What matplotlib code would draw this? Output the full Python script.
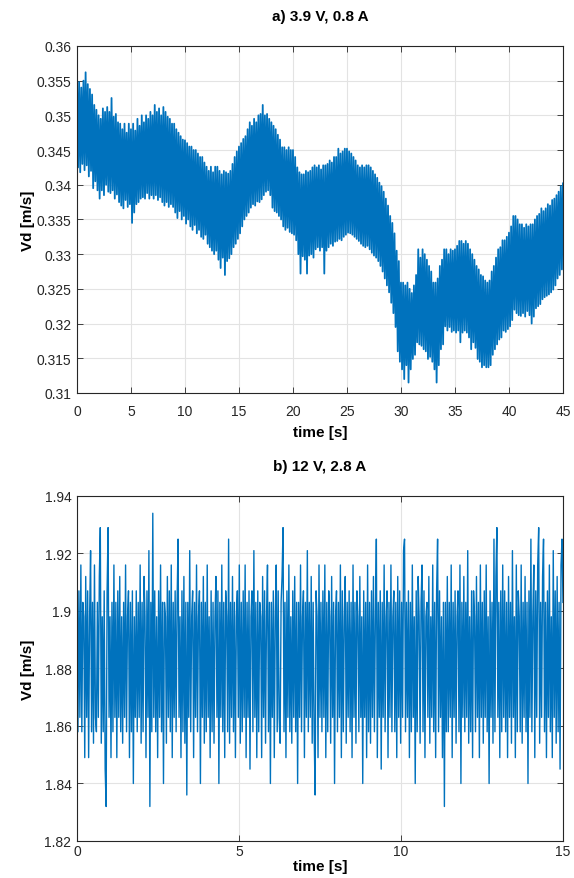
import numpy as np
import matplotlib
matplotlib.use("Agg")
import matplotlib.pyplot as plt
from matplotlib.ticker import FuncFormatter, MultipleLocator

plt.rcParams['font.family'] = ['Liberation Sans', 'DejaVu Sans']

# a) 3.9 V, 0.8 A  -- Vd [m/s], one sample every 0.1 s (0..45 s)
vd_a = [
    0.3555, 0.3425, 0.3548, 0.3418, 0.3540, 0.3430, 0.3550, 0.3421, 0.3562, 0.3428,
    0.3545, 0.3412, 0.3538, 0.3420, 0.3530, 0.3395, 0.3515, 0.3405, 0.3508, 0.3392,
    0.3500, 0.3380, 0.3495, 0.3392, 0.3510, 0.3385, 0.3505, 0.3400, 0.3512, 0.3390,
    0.3505, 0.3388, 0.3525, 0.3392, 0.3498, 0.3380, 0.3502, 0.3386, 0.3490, 0.3375,
    0.3488, 0.3370, 0.3480, 0.3366, 0.3488, 0.3378, 0.3475, 0.3368, 0.3488, 0.3372,
    0.3480, 0.3345, 0.3488, 0.3360, 0.3478, 0.3372, 0.3495, 0.3375, 0.3485, 0.3380,
    0.3500, 0.3382, 0.3490, 0.3380, 0.3500, 0.3388, 0.3495, 0.3380, 0.3505, 0.3385,
    0.3500, 0.3380, 0.3515, 0.3385, 0.3505, 0.3378, 0.3510, 0.3382, 0.3500, 0.3375,
    0.3512, 0.3370, 0.3505, 0.3375, 0.3498, 0.3368, 0.3495, 0.3372, 0.3488, 0.3368,
    0.3488, 0.3360, 0.3480, 0.3352, 0.3475, 0.3362, 0.3470, 0.3350, 0.3465, 0.3355,
    0.3464, 0.3344, 0.3460, 0.3350, 0.3455, 0.3340, 0.3455, 0.3335, 0.3450, 0.3342,
    0.3450, 0.3330, 0.3445, 0.3335, 0.3440, 0.3325, 0.3440, 0.3322, 0.3432, 0.3328,
    0.3426, 0.3315, 0.3420, 0.3310, 0.3426, 0.3305, 0.3418, 0.3300, 0.3426, 0.3305,
    0.3426, 0.3292, 0.3420, 0.3280, 0.3415, 0.3295, 0.3420, 0.3270, 0.3418, 0.3290,
    0.3416, 0.3294, 0.3420, 0.3300, 0.3430, 0.3310, 0.3440, 0.3315, 0.3448, 0.3322,
    0.3455, 0.3330, 0.3460, 0.3340, 0.3466, 0.3350, 0.3470, 0.3355, 0.3480, 0.3360,
    0.3490, 0.3367, 0.3485, 0.3372, 0.3495, 0.3370, 0.3490, 0.3376, 0.3500, 0.3375,
    0.3502, 0.3379, 0.3515, 0.3385, 0.3500, 0.3390, 0.3502, 0.3392, 0.3495, 0.3385,
    0.3490, 0.3367, 0.3485, 0.3362, 0.3480, 0.3360, 0.3472, 0.3355, 0.3465, 0.3350,
    0.3454, 0.3340, 0.3454, 0.3335, 0.3450, 0.3338, 0.3454, 0.3332, 0.3450, 0.3330,
    0.3450, 0.3328, 0.3440, 0.3320, 0.3425, 0.3300, 0.3418, 0.3272, 0.3415, 0.3297,
    0.3415, 0.3292, 0.3420, 0.3272, 0.3418, 0.3298, 0.3420, 0.3300, 0.3425, 0.3295,
    0.3428, 0.3307, 0.3425, 0.3310, 0.3428, 0.3305, 0.3422, 0.3310, 0.3428, 0.3272,
    0.3428, 0.3305, 0.3430, 0.3310, 0.3435, 0.3315, 0.3432, 0.3312, 0.3440, 0.3318,
    0.3440, 0.3319, 0.3452, 0.3322, 0.3445, 0.3320, 0.3448, 0.3325, 0.3452, 0.3328,
    0.3452, 0.3331, 0.3448, 0.3330, 0.3445, 0.3328, 0.3440, 0.3325, 0.3435, 0.3322,
    0.3428, 0.3319, 0.3425, 0.3315, 0.3428, 0.3312, 0.3425, 0.3310, 0.3428, 0.3312,
    0.3428, 0.3307, 0.3425, 0.3302, 0.3420, 0.3298, 0.3415, 0.3295, 0.3410, 0.3290,
    0.3403, 0.3283, 0.3398, 0.3275, 0.3390, 0.3265, 0.3380, 0.3255, 0.3370, 0.3245,
    0.3355, 0.3230, 0.3345, 0.3215, 0.3330, 0.3195, 0.3305, 0.3160, 0.3290, 0.3145,
    0.3259, 0.3134, 0.3259, 0.3120, 0.3255, 0.3140, 0.3259, 0.3115, 0.3250, 0.3134,
    0.3244, 0.3149, 0.3255, 0.3155, 0.3270, 0.3173, 0.3307, 0.3170, 0.3295, 0.3168,
    0.3307, 0.3163, 0.3300, 0.3160, 0.3292, 0.3149, 0.3283, 0.3152, 0.3275, 0.3145,
    0.3259, 0.3134, 0.3259, 0.3115, 0.3265, 0.3140, 0.3283, 0.3163, 0.3292, 0.3170,
    0.3307, 0.3196, 0.3307, 0.3190, 0.3300, 0.3195, 0.3307, 0.3188, 0.3305, 0.3190,
    0.3307, 0.3187, 0.3312, 0.3190, 0.3319, 0.3173, 0.3319, 0.3187, 0.3315, 0.3190,
    0.3319, 0.3187, 0.3315, 0.3180, 0.3307, 0.3163, 0.3300, 0.3173, 0.3292, 0.3165,
    0.3283, 0.3149, 0.3278, 0.3145, 0.3270, 0.3137, 0.3268, 0.3140, 0.3262, 0.3137,
    0.3259, 0.3137, 0.3262, 0.3140, 0.3275, 0.3155, 0.3283, 0.3163, 0.3295, 0.3170,
    0.3307, 0.3177, 0.3310, 0.3180, 0.3320, 0.3190, 0.3320, 0.3188, 0.3325, 0.3192,
    0.3331, 0.3196, 0.3340, 0.3205, 0.3355, 0.3220, 0.3355, 0.3215, 0.3350, 0.3212,
    0.3343, 0.3211, 0.3343, 0.3215, 0.3338, 0.3210, 0.3343, 0.3218, 0.3340, 0.3212,
    0.3343, 0.3200, 0.3343, 0.3210, 0.3350, 0.3222, 0.3355, 0.3225, 0.3358, 0.3228,
    0.3366, 0.3235, 0.3362, 0.3238, 0.3366, 0.3240, 0.3372, 0.3242, 0.3370, 0.3245,
    0.3378, 0.3249, 0.3380, 0.3255, 0.3385, 0.3265, 0.3390, 0.3270, 0.3398, 0.3278,
    0.3402,
]
t_a = np.linspace(0, 45, len(vd_a))

# b) 12 V, 2.8 A  -- Vd [m/s], one sample every 0.03 s (0..15 s)
vd_b = [
    1.903, 1.858, 1.907, 1.863, 1.916, 1.858, 1.903, 1.898, 1.849, 1.912, 1.863, 1.907, 1.849, 1.898, 1.921, 1.858, 1.903, 1.854, 1.916, 1.863,
    1.858, 1.903, 1.863, 1.912, 1.929, 1.854, 1.898, 1.858, 1.907, 1.845, 1.832, 1.907, 1.929, 1.863, 1.898, 1.849, 1.903, 1.858, 1.916, 1.863,
    1.903, 1.849, 1.907, 1.863, 1.912, 1.858, 1.898, 1.854, 1.903, 1.863, 1.916, 1.858, 1.898, 1.907, 1.849, 1.903, 1.858, 1.907, 1.840, 1.898,
    1.863, 1.907, 1.858, 1.903, 1.863, 1.916, 1.854, 1.903, 1.858, 1.912, 1.898, 1.849, 1.907, 1.863, 1.921, 1.832, 1.903, 1.858, 1.934, 1.863,
    1.907, 1.858, 1.898, 1.849, 1.907, 1.863, 1.916, 1.858, 1.903, 1.840, 1.903, 1.898, 1.854, 1.912, 1.863, 1.907, 1.858, 1.916, 1.849, 1.903,
    1.863, 1.907, 1.858, 1.903, 1.925, 1.863, 1.898, 1.849, 1.907, 1.858, 1.912, 1.854, 1.903, 1.836, 1.903, 1.863, 1.921, 1.858, 1.898, 1.907,
    1.849, 1.903, 1.863, 1.916, 1.858, 1.898, 1.907, 1.840, 1.903, 1.863, 1.912, 1.854, 1.903, 1.858, 1.916, 1.863, 1.898, 1.849, 1.907, 1.858,
    1.903, 1.854, 1.898, 1.912, 1.863, 1.907, 1.840, 1.903, 1.863, 1.916, 1.858, 1.903, 1.849, 1.907, 1.898, 1.858, 1.925, 1.854, 1.903, 1.863,
    1.912, 1.858, 1.903, 1.849, 1.898, 1.907, 1.863, 1.916, 1.854, 1.903, 1.858, 1.907, 1.863, 1.916, 1.849, 1.903, 1.863, 1.907, 1.845, 1.898,
    1.907, 1.858, 1.921, 1.863, 1.903, 1.849, 1.907, 1.858, 1.903, 1.898, 1.849, 1.912, 1.863, 1.907, 1.854, 1.898, 1.916, 1.858, 1.903, 1.840,
    1.903, 1.863, 1.907, 1.849, 1.898, 1.916, 1.858, 1.907, 1.863, 1.854, 1.903, 1.912, 1.929, 1.858, 1.903, 1.849, 1.907, 1.863, 1.916, 1.858,
    1.898, 1.854, 1.907, 1.863, 1.912, 1.858, 1.903, 1.840, 1.903, 1.863, 1.916, 1.858, 1.898, 1.907, 1.849, 1.903, 1.863, 1.921, 1.858, 1.903,
    1.863, 1.912, 1.854, 1.903, 1.858, 1.836, 1.907, 1.898, 1.849, 1.916, 1.863, 1.903, 1.858, 1.907, 1.863, 1.916, 1.849, 1.903, 1.858, 1.907,
    1.898, 1.854, 1.912, 1.863, 1.903, 1.840, 1.898, 1.907, 1.858, 1.903, 1.863, 1.916, 1.849, 1.907, 1.858, 1.898, 1.912, 1.854, 1.903, 1.863,
    1.907, 1.858, 1.903, 1.849, 1.916, 1.863, 1.903, 1.854, 1.907, 1.898, 1.858, 1.912, 1.863, 1.898, 1.840, 1.907, 1.863, 1.903, 1.849, 1.916,
    1.858, 1.903, 1.854, 1.907, 1.863, 1.912, 1.858, 1.898, 1.925, 1.849, 1.903, 1.863, 1.907, 1.845, 1.903, 1.863, 1.916, 1.858, 1.898, 1.907,
    1.849, 1.903, 1.863, 1.916, 1.858, 1.898, 1.907, 1.858, 1.903, 1.849, 1.912, 1.863, 1.907, 1.854, 1.903, 1.863, 1.921, 1.925, 1.858, 1.903,
    1.863, 1.907, 1.849, 1.903, 1.858, 1.916, 1.863, 1.898, 1.840, 1.907, 1.858, 1.912, 1.898, 1.854, 1.903, 1.916, 1.858, 1.907, 1.849, 1.898,
    1.903, 1.863, 1.912, 1.854, 1.898, 1.863, 1.916, 1.858, 1.903, 1.849, 1.907, 1.925, 1.858, 1.907, 1.863, 1.898, 1.849, 1.903, 1.832, 1.903,
    1.858, 1.912, 1.858, 1.903, 1.863, 1.916, 1.849, 1.903, 1.863, 1.907, 1.854, 1.898, 1.907, 1.858, 1.916, 1.840, 1.903, 1.863, 1.912, 1.858,
    1.903, 1.863, 1.921, 1.854, 1.898, 1.858, 1.907, 1.849, 1.907, 1.898, 1.858, 1.912, 1.863, 1.903, 1.849, 1.916, 1.863, 1.903, 1.854, 1.907,
    1.863, 1.916, 1.858, 1.898, 1.840, 1.907, 1.863, 1.903, 1.854, 1.925, 1.858, 1.912, 1.929, 1.863, 1.903, 1.849, 1.907, 1.858, 1.916, 1.863,
    1.907, 1.858, 1.903, 1.849, 1.912, 1.863, 1.903, 1.854, 1.921, 1.863, 1.898, 1.849, 1.916, 1.858, 1.907, 1.898, 1.858, 1.916, 1.854, 1.903,
    1.863, 1.912, 1.858, 1.903, 1.840, 1.907, 1.863, 1.925, 1.858, 1.898, 1.916, 1.849, 1.907, 1.863, 1.916, 1.929, 1.854, 1.903, 1.863, 1.912,
    1.925, 1.858, 1.903, 1.849, 1.907, 1.863, 1.916, 1.858, 1.898, 1.849, 1.921, 1.863, 1.907, 1.854, 1.912, 1.858, 1.903, 1.845, 1.916, 1.925,
    1.903,
]
t_b = np.linspace(0, 15, len(vd_b))

line_col = "#0072BD"
ax_col = "#262626"

fig = plt.figure(figsize=(5.74, 8.79), dpi=100)
ax1 = fig.add_axes([0.1341, 0.5518, 0.8467, 0.3948])
ax2 = fig.add_axes([0.1341, 0.0421, 0.8467, 0.3925])

fmt = FuncFormatter(lambda v, p: "%g" % round(v, 4))

def style(ax, title, xpad, xlabelpad):
    ax.set_title(title, fontsize=11, fontweight="bold", pad=19, color="black")
    ax.set_xlabel("time [s]", fontsize=11, fontweight="bold", labelpad=xlabelpad)
    ax.set_ylabel("Vd [m/s]", fontsize=11, fontweight="bold")
    ax.yaxis.set_label_coords(-0.087, 0.5)
    ax.grid(True, color="#e3e3e3", linewidth=0.8)
    ax.set_axisbelow(True)
    for s in ax.spines.values():
        s.set_color(ax_col)
        s.set_linewidth(0.8)
    ax.tick_params(direction="in", top=True, right=True, length=4, width=0.6,
                   colors=ax_col, labelsize=10)
    ax.tick_params(axis="x", pad=xpad)
    ax.tick_params(axis="y", pad=4)
    ax.yaxis.set_major_formatter(fmt)

ax1.plot(t_a, vd_a, color=line_col, linewidth=1.3)
ax1.set_xlim(0, 45)
ax1.set_ylim(0.31, 0.36)
ax1.xaxis.set_major_locator(MultipleLocator(5))
ax1.yaxis.set_major_locator(MultipleLocator(0.005))
style(ax1, "a) 3.9 V, 0.8 A", 8, 5)

ax2.plot(t_b, vd_b, color=line_col, linewidth=1.0)
ax2.set_xlim(0, 15)
ax2.set_ylim(1.82, 1.94)
ax2.xaxis.set_major_locator(MultipleLocator(5))
ax2.yaxis.set_major_locator(MultipleLocator(0.02))
style(ax2, "b) 12 V, 2.8 A", 2, 1)

fig.savefig("out.png", dpi=100)
